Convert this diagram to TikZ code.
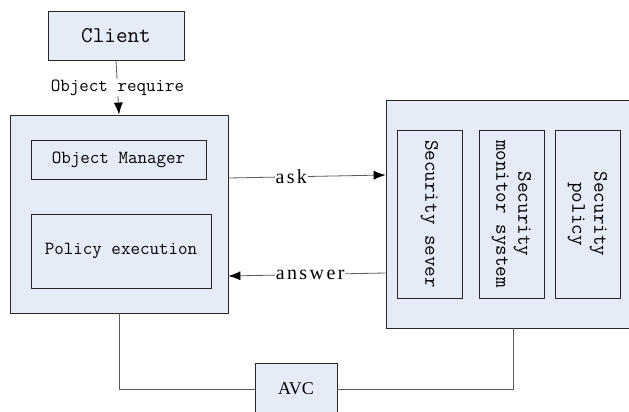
\documentclass[tikz,border=0pt]{standalone}
\usepackage{fontspec}
\newfontfamily\serifw[LetterSpace=12]{Liberation Serif}
\newfontfamily\serifn{Liberation Serif}
\newfontfamily\monob{Latin Modern Mono}
\definecolor{boxfill}{HTML}{E6ECF7}
\definecolor{linegray}{HTML}{5A5A5A}
\usetikzlibrary{arrows.meta}
\tikzset{
  box/.style={draw=black!85, fill=boxfill, line width=0.8pt, inner sep=0pt, anchor=center},
  conn/.style={draw=linegray, line width=0.8pt},
  arr/.style={conn, -{Latex[length=12pt,width=9pt,color=black]}},
  lbl/.style={fill=white, inner sep=1pt},
}
\begin{document}
\begin{tikzpicture}[x=1pt,y=-1pt]
\useasboundingbox (0,0) rectangle (629,412);
\fill[white] (0,0) rectangle (629,412);
% boxes
\node[box, minimum width=136pt, minimum height=49pt, font=\monob\fontsize{22.5}{26}\selectfont] (client) at (116,35.5) {Client};
\node[box, minimum width=218pt, minimum height=198pt] (lbox) at (119,214) {};
\node[box, minimum width=175pt, minimum height=39pt, font=\monob\fontsize{18.5}{20}\selectfont] (om) at (118.5,159.5) {Object Manager};
\node[box, minimum width=180pt, minimum height=74pt, font=\monob\fontsize{18.5}{20}\selectfont] (pe) at (121,251) {Policy execution};
\node[box, minimum width=254pt, minimum height=228pt] (rbox) at (513,214) {};
\node[box, minimum width=65pt, minimum height=168pt] (ss) at (429.5,214) {};
\node[box, minimum width=65pt, minimum height=168pt] (sm) at (511.5,214) {};
\node[box, minimum width=65pt, minimum height=168pt] (sp) at (587.5,214) {};
\node[rotate=-90, align=center, font=\monob\fontsize{20.5}{22}\selectfont] (sst) at (ss.center) {Security sever};
\node[rotate=-90, align=center, font=\monob\fontsize{20.5}{22}\selectfont] (smt) at (sm.center) {Security\\monitor system};
\node[rotate=-90, align=center, font=\monob\fontsize{20.5}{22}\selectfont] (spt) at (sp.center) {Security\\policy};
\node[box, minimum width=82pt, minimum height=52pt, font=\serifn\fontsize{18}{22}\selectfont] (avc) at (296,389) {AVC};
% connectors
\draw[arr] (client.south) -- node[lbl, font=\monob\fontsize{18.5}{19}\selectfont, pos=0.5] {Object require} (lbox.north);
\draw[arr] ([yshift=36pt]lbox.east) -- node[lbl, font=\serifw\fontsize{20}{22}\selectfont, pos=0.4] {ask} ([yshift=39pt]rbox.west);
\draw[arr] ([yshift=-59pt]rbox.west) -- node[lbl, font=\serifw\fontsize{20}{22}\selectfont, pos=0.48] {answer} ([yshift=-62pt]lbox.east);
\draw[conn] (lbox.south) |- (avc.west);
\draw[conn] (avc.east) -| (rbox.south);
\end{tikzpicture}
\end{document}
